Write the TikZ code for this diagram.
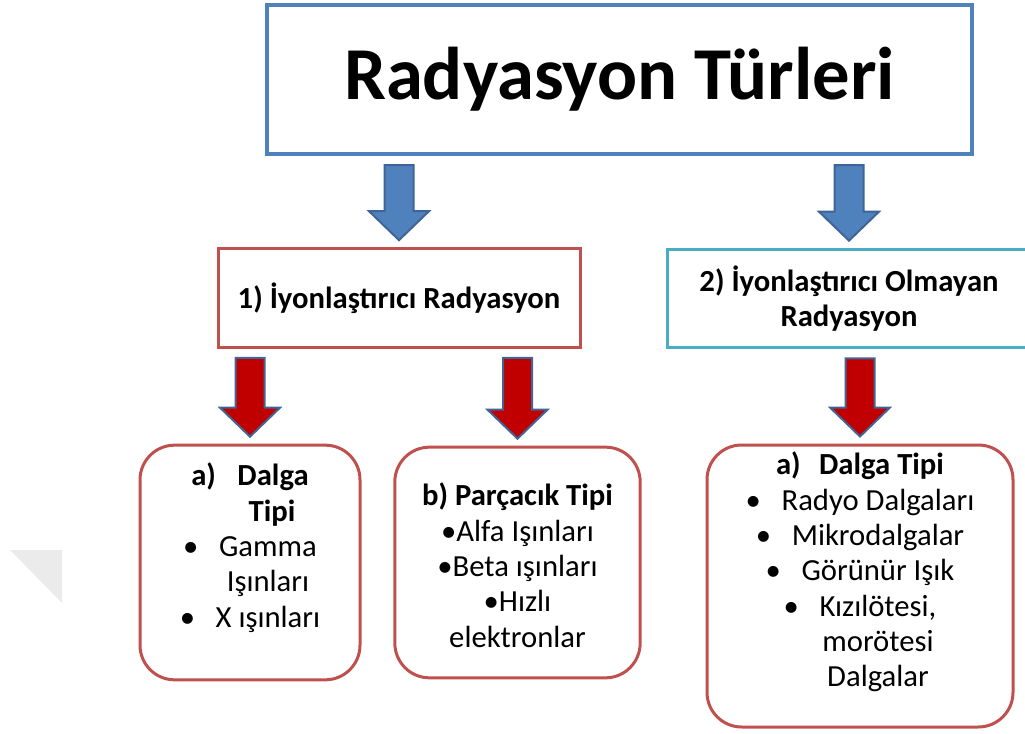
\documentclass[tikz,border=0pt]{standalone}
\usepackage{fontspec}
\setmainfont{Carlito}
\usepackage{tikz}
\usetikzlibrary{calc}
\usetikzlibrary{positioning}

\definecolor{kutumavi}{HTML}{4F81BD}
\definecolor{okkenar}{HTML}{3F6496}
\definecolor{okkirmizi}{HTML}{C00000}
\definecolor{kutukirmizi}{HTML}{C0504D}
\definecolor{camgobegi}{HTML}{4BACC6}
\definecolor{acikgri}{HTML}{EBEBEB}
\newcommand{\madde}{\makebox[27pt][l]{•}}

\begin{document}
\begin{tikzpicture}[
  x=0.75pt, y=-0.75pt,
  baslik/.style = {draw=kutumavi, line width=3pt, minimum width=529pt, minimum height=112pt,
    font=\fontsize{56}{60}\selectfont\bfseries},
  kutu/.style = {draw, line width=2.25pt, minimum height=74pt, align=center,
    font=\fontsize{23}{26.5}\selectfont\bfseries},
  yuvarlak/.style = {draw=kutukirmizi, line width=2.25pt, rounded corners=26pt},
  yazi/.style = {align=center, inner sep=0pt, font=\fontsize{23}{26.5}\selectfont},
  ok/.style = {draw=okkenar, line width=1.5pt,
    to path={($(\tikztostart)+(-14.5,9)$) -- ($(\tikztotarget)+(-14.5,-36)$)
      -- ($(\tikztotarget)+(-30,-36)$) -- ($(\tikztotarget)+(0,-7)$)
      -- ($(\tikztotarget)+(30,-36)$) -- ($(\tikztotarget)+(14.5,-36)$)
      -- ($(\tikztostart)+(14.5,9)$) -- cycle}},
  mavi/.style = {fill=kutumavi},
  kirmizi/.style = {fill=okkirmizi}
  ]
	\useasboundingbox (0,0) rectangle (1025,734);
	\clip (0,0) rectangle (1025,734);

	\fill[acikgri] (10,550) -- (62,550) -- (62,603) -- cycle;

	\node[baslik] (baslik) at (619.5,79.5) {Radyasyon Türleri};

	\node[kutu, draw=kutukirmizi, minimum width=271.5pt] (iyon) at (399,298) {1) İyonlaştırıcı Radyasyon};
	\node[kutu, draw=camgobegi, minimum width=273pt] (noniyon) at (849,298.5) {2) İyonlaştırıcı Olmayan\\Radyasyon};

	\node[yuvarlak, minimum width=165pt, minimum height=176pt] (dalgaA) at (250,562.5) {};
	\node[yuvarlak, minimum width=184pt, minimum height=173pt] (parcacik) at (517.5,562.5) {};
	\node[yuvarlak, minimum width=229.5pt, minimum height=211.5pt] (dalgaC) at (860,586) {};

	\node[yazi] at ([yshift=11pt]dalgaA.center) {\textbf{a)\hspace{0.7em}Dalga}\\
		\hspace*{33pt}\textbf{Tipi}\\
		\madde Gamma\\
		\hspace*{27pt}Işınları\\
		\madde X ışınları};
	\node[yazi] at ([yshift=-2pt]parcacik.center) {\textbf{b) Parçacık Tipi}\\
		•Alfa Işınları\\
		•Beta ışınları\\
		•Hızlı\\
		elektronlar};
	\node[yazi] at ([yshift=10.5pt]dalgaC.center) {\textbf{a)\hspace{0.6em}Dalga Tipi}\\
		\madde Radyo Dalgaları\\
		\madde Mikrodalgalar\\
		\madde Görünür Işık\\
		\madde Kızılötesi,\\
		\hspace*{27pt}morötesi\\
		\hspace*{27pt}Dalgalar};

	\draw[ok, mavi] (baslik.south -| iyon.north) to (iyon.north);
	\draw[ok, mavi] (baslik.south -| noniyon.north) to (noniyon.north);
	\draw[ok, kirmizi] (iyon.south -| dalgaA.north) to (dalgaA.north);
	\draw[ok, kirmizi] (iyon.south -| parcacik.north) to (parcacik.north);
	\draw[ok, kirmizi] (noniyon.south -| dalgaC.north) to (dalgaC.north);

\end{tikzpicture}
\end{document}
